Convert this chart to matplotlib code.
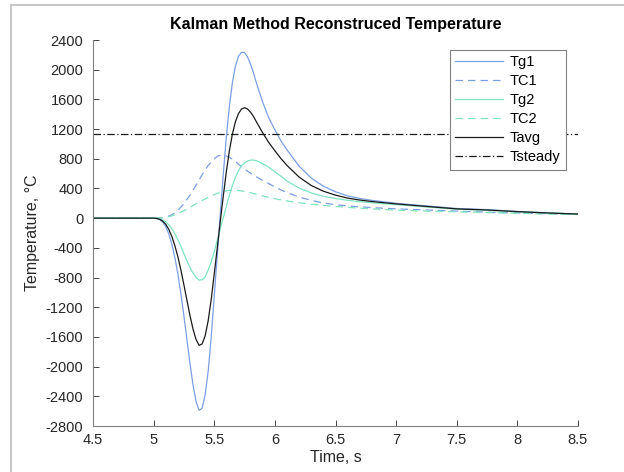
import matplotlib.pyplot as plt
import matplotlib.patches as patches

# Data -------------------------------------------------------------------

t_g = [4.5,
       5.0, 5.025, 5.05, 5.075, 5.1, 5.125, 5.15, 5.175, 5.2, 5.225, 5.25, 5.275,
       5.3, 5.325, 5.35, 5.375, 5.4, 5.425, 5.45, 5.475, 5.5, 5.525, 5.55, 5.575,
       5.6, 5.625, 5.65, 5.675, 5.7, 5.725, 5.75, 5.775, 5.8, 5.825, 5.85,
       5.9, 5.95, 6.0, 6.05, 6.1,
       6.2, 6.3, 6.4, 6.5, 6.6, 6.7, 6.8, 6.9, 7.0,
       7.25, 7.5, 7.75, 8.0, 8.25, 8.5]
tg1 = [0,
       0, -5, -20, -55, -115, -210, -350, -530, -750, -1020, -1320, -1640,
       -1960, -2250, -2470, -2590, -2560, -2380, -2060, -1600, -1050, -500, 60, 600,
       1100, 1510, 1830, 2050, 2180, 2235, 2230, 2170, 2070, 1950, 1810,
       1560, 1350, 1190, 1040, 920,
       700, 540, 430, 355, 300, 265, 240, 220, 200,
       165, 130, 115, 90, 70, 55]
tg2 = [0,
       0, -3, -10, -25, -50, -90, -140, -210, -290, -380, -480, -575,
       -665, -740, -800, -835, -830, -790, -700, -590, -450, -300, -140, 10,
       160, 310, 440, 550, 640, 705, 745, 770, 782, 782, 772,
       735, 685, 625, 565, 500,
       405, 340, 295, 265, 240, 222, 208, 195, 183,
       150, 120, 105, 85, 70, 55]
tavg = [0,
        0, -4, -15, -40, -83, -150, -245, -370, -520, -700, -900, -1108,
        -1313, -1495, -1635, -1713, -1695, -1585, -1380, -1095, -750, -400, -40, 305,
        630, 910, 1135, 1300, 1410, 1470, 1488, 1470, 1426, 1366, 1291,
        1148, 1018, 908, 803, 710,
        553, 440, 363, 310, 270, 244, 224, 208, 192,
        158, 125, 110, 88, 70, 55]

t_c = [4.5, 5.0, 5.05, 5.1, 5.15, 5.2, 5.25, 5.3, 5.35, 5.4, 5.45, 5.5, 5.53,
       5.56, 5.6, 5.63, 5.67, 5.7, 5.75, 5.8, 5.85, 5.9, 5.95, 6.0, 6.05, 6.1,
       6.2, 6.3, 6.4, 6.5, 6.65, 6.8, 7.0, 7.25, 7.5, 7.75, 8.0, 8.25, 8.5]
tc1 = [0, 0, 2, 12, 45, 105, 195, 310, 445, 585, 710, 800, 838,
       850, 838, 815, 775, 725, 660, 605, 555, 510, 465, 420, 380, 345,
       285, 240, 205, 180, 158, 142, 125, 110, 95, 80, 70, 60, 50]
tc2 = [0, 0, 2, 9, 30, 62, 100, 145, 192, 238, 280, 318, 336,
       350, 368, 376, 376, 372, 360, 342, 322, 300, 280, 262, 246, 232,
       207, 188, 172, 158, 140, 125, 108, 95, 85, 75, 65, 55, 50]

t_steady = 1130

yticks = list(range(-2800, 2401, 400))
xticks = [4.5, 5, 5.5, 6, 6.5, 7, 7.5, 8, 8.5]
xticklabels = ['4.5', '5', '5.5', '6', '6.5', '7', '7.5', '8', '8.5']

# Plot -------------------------------------------------------------------

plt.rcParams['font.family'] = ['Liberation Sans', 'DejaVu Sans']
plt.rcParams['axes.unicode_minus'] = False

blue = '#7b9fe3'
green = '#7fe3c0'
dark = '#1a1a1a'

fig = plt.figure(figsize=(6.24, 4.72), dpi=100)
fig.patches.append(patches.Rectangle((11 / 624, -0.1), 1.2, 1.09, transform=fig.transFigure,
                                     fill=False, edgecolor='#c8c8c8', linewidth=1.5))
ax = fig.add_axes([93 / 624, 46 / 472, 485 / 624, 386 / 472])

ax.plot(t_g, tg1, color=blue, linewidth=0.9, label='Tg1')
ax.plot(t_c, tc1, color=blue, linewidth=0.9, linestyle=(0, (6, 4)), label='TC1')
ax.plot(t_g, tg2, color=green, linewidth=0.9, label='Tg2')
ax.plot(t_c, tc2, color=green, linewidth=0.9, linestyle=(0, (6, 4)), label='TC2')
ax.plot(t_g, tavg, color=dark, linewidth=0.9, label='Tavg')
ax.axhline(t_steady, color=dark, linewidth=0.9, linestyle=(0, (6, 2, 1, 2)), label='Tsteady')

ax.set_xlim(4.5, 8.5)
ax.set_ylim(-2800, 2400)
ax.set_xticks(xticks)
ax.set_xticklabels(xticklabels)
ax.set_yticks(yticks)
ax.tick_params(direction='in', length=4, labelsize=10.5, colors='#262626', width=0.6)
ax.tick_params(axis='y', pad=7)
ax.tick_params(axis='x', pad=5)
for s in ['top', 'right']:
    ax.spines[s].set_visible(False)
for s in ['left', 'bottom']:
    ax.spines[s].set_color('#808080')
    ax.spines[s].set_linewidth(0.8)

ax.set_title('Kalman Method Reconstruced Temperature', fontsize=11.5, fontweight='bold', pad=8)
ax.set_xlabel('Time, s', fontsize=11.5, color='#262626', labelpad=2)
ax.set_ylabel('Temperature, °C', fontsize=11.5, color='#262626', labelpad=4)

leg = ax.legend(loc='upper right', bbox_to_anchor=(0.975, 0.975), borderaxespad=0,
                fontsize=10.5, handlelength=3.3, handletextpad=0.4, labelspacing=0.34,
                fancybox=False, framealpha=1, edgecolor='#808080', borderpad=0.4)
leg.get_frame().set_linewidth(0.8)

plt.savefig('out.png', dpi=100)
